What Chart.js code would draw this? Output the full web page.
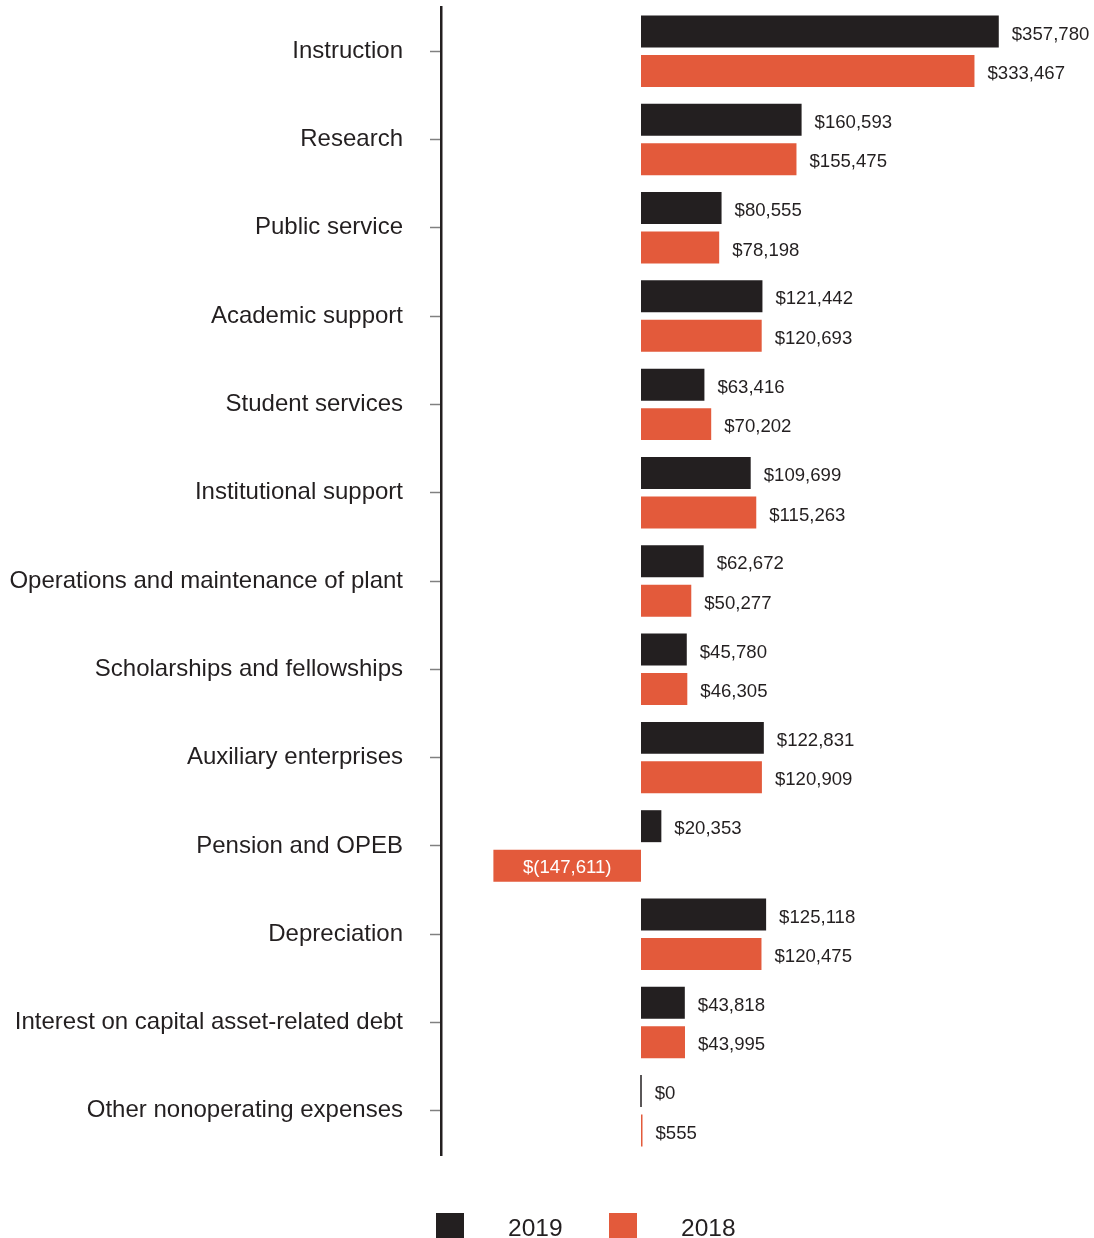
<!DOCTYPE html>
<html>
<head>
<meta charset="utf-8">
<script src="https://cdn.jsdelivr.net/npm/chart.js@4.4.1/dist/chart.umd.min.js"></script>
<style>
  html, body { margin: 0; padding: 0; background: #fff; }
  #wrap { position: relative; width: 1094px; height: 1238px; overflow: hidden; }
  #legend { position: absolute; left: 0; top: 0; font-family: "Liberation Sans", Arial, sans-serif; color: #231f20; }
  .sw { position: absolute; width: 28px; height: 26px; }
  .lt { position: absolute; font-size: 24.5px; line-height: 24px; white-space: nowrap; }
</style>
</head>
<body>
<div id="wrap">
  <canvas id="chart" width="1094" height="1238"></canvas>
  <div id="legend">
    <div class="sw" style="left:436px;top:1213px;background:#231f20"></div>
    <div class="lt" style="left:508px;top:1216px">2019</div>
    <div class="sw" style="left:609px;top:1213px;background:#e35a3b"></div>
    <div class="lt" style="left:681px;top:1216px">2018</div>
  </div>
</div>
<script>
// ---- data ----
const CATEGORIES = [
  "Instruction", "Research", "Public service", "Academic support",
  "Student services", "Institutional support", "Operations and maintenance of plant",
  "Scholarships and fellowships", "Auxiliary enterprises", "Pension and OPEB",
  "Depreciation", "Interest on capital asset-related debt", "Other nonoperating expenses"
];
const VALUES_2019 = [357780, 160593, 80555, 121442, 63416, 109699, 62672, 45780, 122831, 20353, 125118, 43818, 0];
const VALUES_2018 = [333467, 155475, 78198, 120693, 70202, 115263, 50277, 46305, 120909, -147611, 120475, 43995, 555];

const BLACK  = "#231f20";
const ORANGE = "#e35a3b";
const FONT   = '"Liberation Sans", Arial, sans-serif';

// $1,234 or $(1,234) for negatives
const money = (v) => v < 0
  ? "$(" + Math.abs(v).toLocaleString("en-US") + ")"
  : "$" + v.toLocaleString("en-US");

// value labels next to (or inside, when negative) each bar
const valueLabels = {
  id: "valueLabels",
  afterDatasetsDraw(chart) {
    const ctx = chart.ctx;
    ctx.save();
    ctx.font = "18.6px " + FONT;
    ctx.textBaseline = "middle";
    chart.data.datasets.forEach((ds, i) => {
      chart.getDatasetMeta(i).data.forEach((bar, j) => {
        const v = ds.data[j];
        if (v < 0) {
          ctx.fillStyle = "#ffffff";
          ctx.textAlign = "center";
          ctx.fillText(money(v), (bar.x + bar.base) / 2, bar.y + 2);
        } else {
          ctx.fillStyle = BLACK;
          ctx.textAlign = "left";
          ctx.fillText(money(v), Math.max(bar.x, bar.base) + 13, bar.y + 3);
        }
      });
    });
    ctx.restore();
  }
};

new Chart(document.getElementById("chart"), {
  type: "bar",
  data: {
    labels: CATEGORIES,
    datasets: [
      { label: "2019", data: VALUES_2019, backgroundColor: BLACK,  categoryPercentage: 0.894, barPercentage: 0.81, minBarLength: 1.5 },
      { label: "2018", data: VALUES_2018, backgroundColor: ORANGE, categoryPercentage: 0.894, barPercentage: 0.81, minBarLength: 1.5 }
    ]
  },
  options: {
    indexAxis: "y",
    responsive: false,
    animation: false,
    layout: { padding: { top: 7, bottom: 83, left: 0, right: 0 } },
    plugins: { legend: { display: false }, tooltip: { enabled: false } },
    scales: {
      x: { display: false, min: -200000, max: 453000 },
      y: {
        afterFit(scale) { scale.width = 441; scale.paddingTop = 0; scale.paddingBottom = 0; },
        border: { display: true, color: BLACK, width: 2.5 },
        grid: { offset: false, drawOnChartArea: false, drawTicks: true, tickLength: 11, tickColor: "#808080", tickWidth: 1.5 },
        ticks: { color: BLACK, padding: 27, font: { family: FONT, size: 24 } }
      }
    }
  },
  plugins: [valueLabels]
});
</script>
</body>
</html>
